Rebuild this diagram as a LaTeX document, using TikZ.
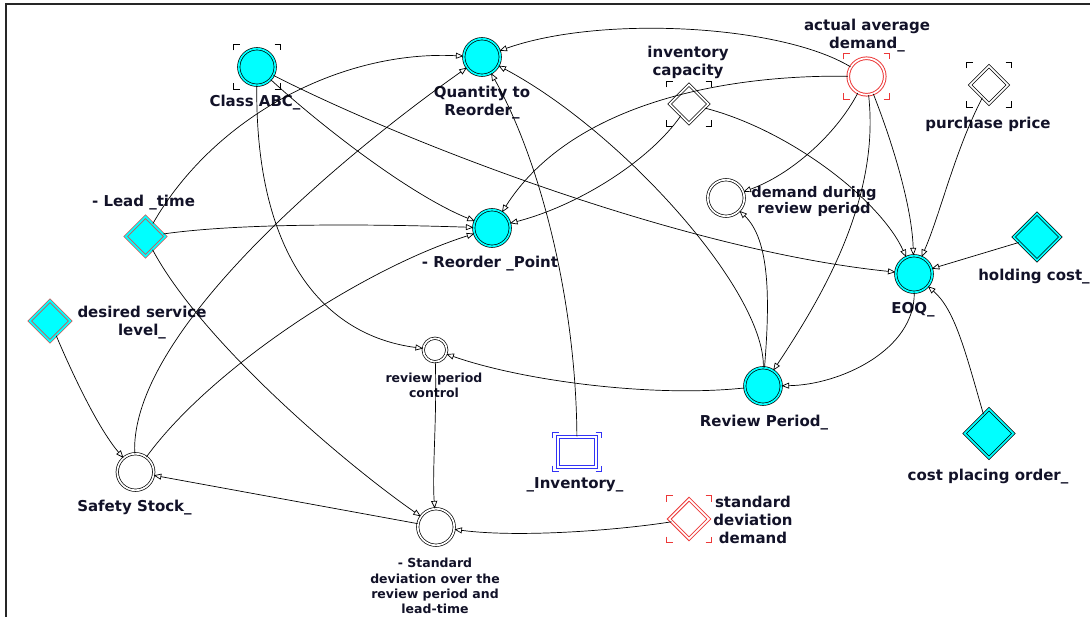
\documentclass[tikz,border=0pt]{standalone}
\usepackage{fontspec}
\setmainfont{DejaVu Sans}
\usetikzlibrary{shapes.geometric,arrows.meta,calc}

\definecolor{aqua}{RGB}{0,255,255}
\definecolor{ringred}{RGB}{236,56,56}
\definecolor{leadred}{RGB}{205,85,85}
\definecolor{stockblue}{RGB}{50,50,245}
\definecolor{ink}{RGB}{18,18,40}

\tikzset{
  var/.style={circle, inner sep=0pt, minimum size=36.5pt, line width=0.7pt, double distance=1.7pt},
  auxcyan/.style={var, draw=black, double=aqua, fill=aqua},
  auxwhite/.style={var, draw=black, double=white, fill=white},
  auxred/.style={var, draw=ringred, line width=0.95pt, double=white, fill=white},
  const/.style={diamond, aspect=1, inner sep=0pt, minimum width=#1, minimum height=#1,
                line width=0.7pt, double distance=1.7pt},
  constcyan/.style={const=#1, draw=black, double=aqua, fill=aqua},
  constwhite/.style={const=#1, draw=black, double=white, fill=white},
  constred/.style={const=#1, draw=ringred, line width=0.95pt, double=white, fill=white},
  constlead/.style={const=#1, draw=leadred, line width=0.85pt, double=aqua, fill=aqua},
  stock/.style={rectangle, inner sep=0pt, minimum width=38pt, minimum height=30pt,
                draw=stockblue, line width=1.1pt, double=white, double distance=1.8pt, fill=white},
  lbl/.style={font=\fontsize{15}{18}\selectfont\bfseries, text=ink, align=center, inner sep=0pt},
  lblmid/.style={font=\fontsize{14.6}{15.8}\selectfont\bfseries, text=ink, align=center, inner sep=0pt},
  lblsmall/.style={font=\fontsize{12.5}{15.3}\selectfont\bfseries, text=ink, align=center, inner sep=0pt},
  link/.style={line width=0.7pt, -{Triangle[open, length=7.5pt, width=6pt]}},
  bracket/.style={line width=1pt},
  frame/.style={line width=2pt, black!85}
}

% corner marks around a node: centre node, half width, half height, colour
\newcommand{\cornermarks}[4]{%
  \draw[bracket, #4] ($(#1)+(-#2,-#3+6)$) -- ($(#1)+(-#2,-#3)$) -- ($(#1)+(-#2+6,-#3)$);
  \draw[bracket, #4] ($(#1)+(#2-6,-#3)$) -- ($(#1)+(#2,-#3)$) -- ($(#1)+(#2,-#3+6)$);
  \draw[bracket, #4] ($(#1)+(-#2,#3-6)$) -- ($(#1)+(-#2,#3)$) -- ($(#1)+(-#2+6,#3)$);
  \draw[bracket, #4] ($(#1)+(#2-6,#3)$) -- ($(#1)+(#2,#3)$) -- ($(#1)+(#2,#3-6)$);
}

\begin{document}
\begin{tikzpicture}[x=1pt, y=-1pt]
\useasboundingbox (0,0) rectangle (1090,617);
\fill[white] (0,0) rectangle (1090,617);

% window frame
\draw[frame] (6,617) -- (6,4) -- (1090,4);

% ---- variables ----
\node[auxcyan]  (cls)  at (257,67)    {};
\node[auxcyan]  (qtr)  at (482,57)    {};
\node[constwhite=39pt] (ic) at (689,104) {};
\node[auxred]   (aad)  at (866.5,76.5) {};
\node[constwhite=38pt] (pp) at (989,85) {};
\node[auxwhite] (ddrp) at (726,198)   {};
\node[constlead=40pt] (lead) at (145.5,236.5) {};
\node[auxcyan]  (rop)  at (492,228)   {};
\node[auxcyan]  (eoq)  at (914,274)   {};
\node[constcyan=47pt] (hc) at (1037,237) {};
\node[constlead=41pt] (dsl) at (50,321) {};
\node[auxwhite, minimum size=23.5pt] (rpc) at (435,350) {};
\node[auxcyan]  (rp)   at (763,386)   {};
\node[stock]    (inv)  at (577,452)   {};
\node[constcyan=49pt] (cpo) at (989,433.5) {};
\node[auxwhite] (ss)   at (135.5,472) {};
\node[auxwhite] (sd)   at (436,527)   {};
\node[constred=40pt] (sdd) at (689,519) {};

% ---- corner marks ----
\cornermarks{cls}{23.5}{22.5}{black}
\cornermarks{ic}{22.5}{22.5}{black}
\cornermarks{aad}{23}{23}{ringred}
\cornermarks{pp}{22.5}{22.5}{black}
\cornermarks{sdd}{22.5}{23.5}{ringred}
\cornermarks{inv}{24.5}{19.5}{stockblue}

% ---- labels ----
\node[lbl] (clsL)  at (255,103)   {Class ABC\_};
\node[lbl] (qtrL)  at (482,103)   {Quantity to\\Reorder\_};
\node[lbl] (icL)   at (688,62)    {inventory\\capacity};
\node[lbl] (aadL)  at (867,36)    {actual average\\demand\_};
\node[lbl] (ppL)   at (988,124)   {purchase price};
\node[lblmid] (ddrpL) at (814,201.5) {demand during\\review period};
\node[lbl] (leadL) at (143.5,203) {- Lead \_time};
\node[lbl] (ropL)  at (490,264)   {- Reorder \_Point};
\node[lbl] (eoqL)  at (913,310)   {EOQ\_};
\node[lbl] (hcL)   at (1034,277)  {holding cost\_};
\node[lbl] (dslL)  at (142,323)   {desired service\\level\_};
\node[lblsmall] (rpcL) at (434,385.5) {review period\\control};
\node[lbl] (rpL)   at (764,423)   {Review Period\_};
\node[lbl] (invL)  at (575,485)   {\_Inventory\_};
\node[lbl] (cpoL)  at (988,477)   {cost placing order\_};
\node[lbl] (ssL)   at (134.5,508) {Safety Stock\_};
\node[lblsmall] (sdL) at (435,586) {- Standard\\deviation over the\\review period and\\lead-time};
\node[lbl] (sddL)  at (753,519.5) {standard\\deviation\\demand};

% ---- links ----
% into Quantity to Reorder
\draw[link] (lead) .. controls +(68,-119) and +(-142,-7) .. (qtr);
\draw[link] (aad)  .. controls +(-86,-52) and +(118,-42) .. (qtr);
\draw[link] (rp)   .. controls +(2,-96)   and +(138,73)  .. (qtr);
\draw[link] (inv)  .. controls +(-1,-152) and +(58,103)  .. (qtr);
\draw[link] (ss)   .. controls +(-6,-142) and +(-132,93) .. (qtr);
% into Reorder Point
\draw[link] (ss)   .. controls +(74,-102) and +(-132,42) .. (rop);
\draw[link] (lead) .. controls +(105,-15) and +(-92,-3)  .. (rop);
\draw[link] (cls)  .. controls +(63,58)   and +(-82,-33) .. (rop);
\draw[link] (ic)   .. controls +(-39,56)  and +(88,-23)  .. (rop);
\draw[link] (aad)  .. controls +(-146,-2) and +(78,-123) .. (rop);
% into EOQ
\draw[link] (cls)  .. controls +(143,73)  and +(-234,-24) .. (eoq);
\draw[link] (ic)   .. controls +(101,26)  and +(-34,-74) .. (eoq);
\draw[link] (aad)  .. controls +(29,74)   and +(-2,-64)  .. (eoq);
\draw[link] (pp)   .. controls +(-34,65)  and +(26,-59)  .. (eoq);
\draw[link] (hc) -- (eoq);
\draw[link] (cpo)  .. controls +(-24,-83) and +(41,36)   .. (eoq);
% review period chain
\draw[link] (aad)  .. controls +(-31,59)  and +(64,-23)  .. (ddrp);
\draw[link] (aad)  .. controls +(14,124)  and +(57,-86)  .. (rp);
\draw[link] (eoq)  .. controls +(1,76)    and +(77,-1)   .. (rp);
\draw[link] (rp)   .. controls +(7,-86)   and +(44,42)   .. (ddrp);
\draw[link] (rp)   .. controls +(-113,12) and +(85,30)   .. (rpc);
\draw[link] (cls)  .. controls +(-2,183)  and +(-115,-15) .. (rpc);
% standard deviation and safety stock
\draw[link] (rpc)  .. controls +(2,70)    and +(-4,-57)  .. (sd);
\draw[link] (lead) .. controls +(55,103)  and +(-96,-67) .. (sd);
\draw[link] (sdd)  .. controls +(-69,11)  and +(84,11)   .. (sd);
\draw[link] (sd) -- (ss);
\draw[link] (dsl)  .. controls +(25,59)   and +(-36,-42) .. (ss);

\end{tikzpicture}
\end{document}
